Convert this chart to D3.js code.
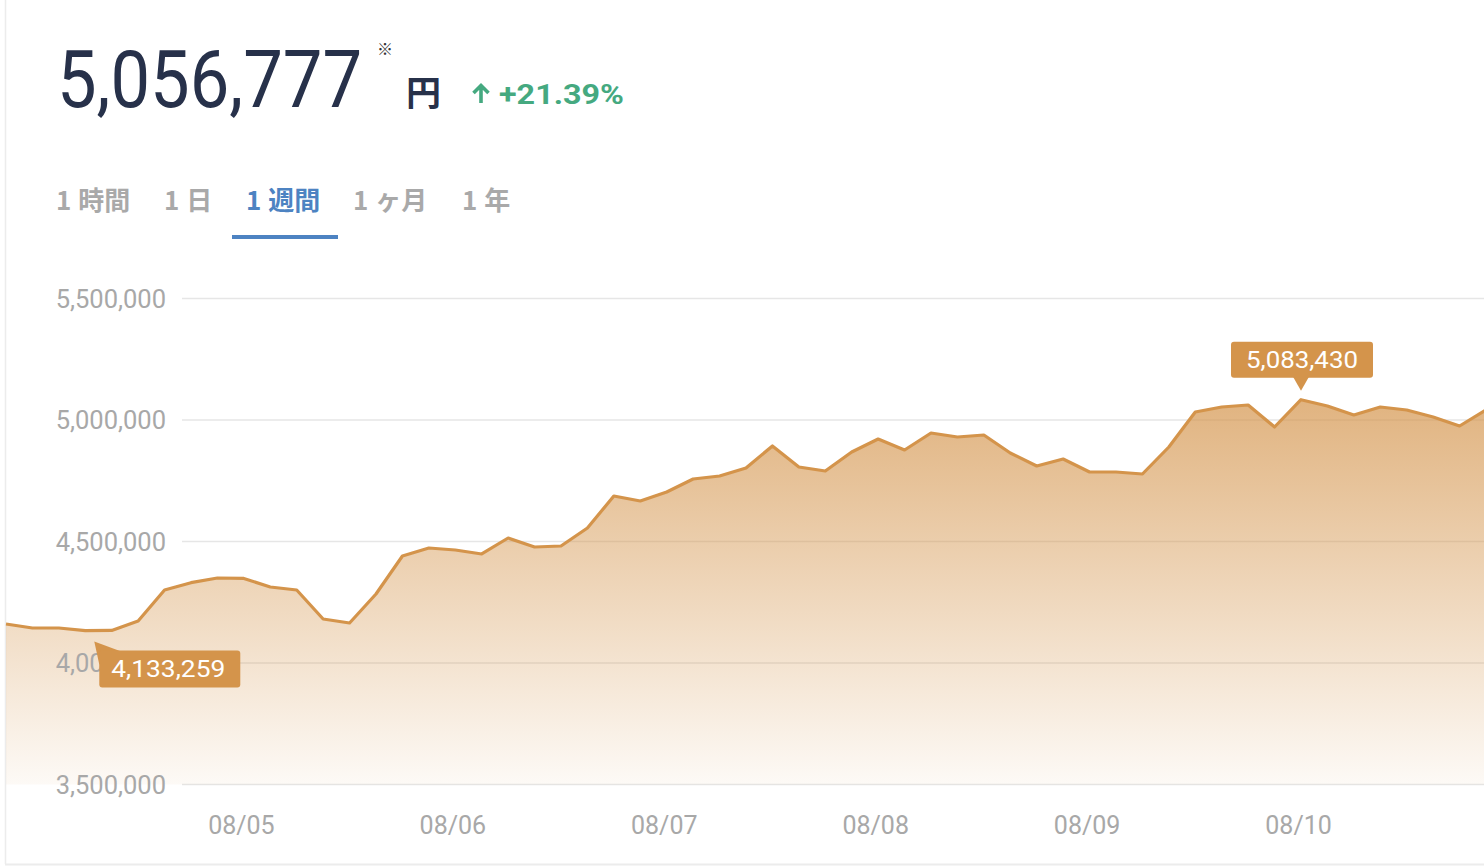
<!DOCTYPE html>
<html><head><meta charset="utf-8">
<script src="https://cdn.jsdelivr.net/npm/d3@7"></script>
<style>
html,body{margin:0;padding:0;background:#fff;}
svg{display:block;}
</style></head>
<body>
<svg id="chart" width="1484" height="868"></svg>
<script>
// ---- data ----
const startTime = "2021-08-03T21:20:00";
const stepHours = 3;
const prices = [
 4160500, 4144000, 4144000, 4133259, 4134000, 4172800, 4300400, 4330500,
 4349800, 4348000, 4312800, 4300400, 4181000, 4164600, 4284000, 4440300,
 4473200, 4465000, 4448600, 4514400, 4477400, 4481500, 4555600, 4687200,
 4666700, 4703700, 4757200, 4769600, 4802500, 4893000, 4806600, 4790100,
 4868300, 4921800, 4876500, 4946500, 4930000, 4938300, 4864200, 4810700,
 4839500, 4786000, 4786000, 4777800, 4888900, 5032900, 5053500, 5061700,
 4971200, 5083430, 5057600, 5020500, 5053500, 5041200, 5012400, 4975300,
 5041200
];
const yTicks = [3500000, 4000000, 4500000, 5000000, 5500000];
const xTickDates = ["2021-08-05", "2021-08-06", "2021-08-07", "2021-08-08", "2021-08-09", "2021-08-10"];
const currentPrice = "5,056,777";
const unitLabel = "円";
const changeLabel = "+21.39%";
const tabs = [["1","時間"],["1","日"],["1","週間"],["1","ヶ月"],["1","年"]];
const activeTab = 2;

// ---- setup ----
const svg = d3.select("#chart");
const parse = d3.isoParse;
const t0 = parse(startTime);
const data = prices.map((v,i)=>({t:new Date(t0.getTime()+i*stepHours*3600e3), v}));
const tEnd = new Date(t0.getTime()+7*24*3600e3);

const x = d3.scaleTime().domain([t0, tEnd]).range([6, 1486]);
const y = d3.scaleLinear().domain([3500000, 5500000]).range([784.5, 298.5]);

const lineColor = "#d4944b";
const numFont = "Roboto, 'Noto Sans', sans-serif";
const cjkFont = "'Noto Sans CJK JP', 'Noto Sans', sans-serif";

// card borders
svg.append("line").attr("x1",5.5).attr("x2",5.5).attr("y1",0).attr("y2",864).attr("stroke","#ececec").attr("stroke-width",1.5);
svg.append("line").attr("x1",5).attr("x2",1484).attr("y1",864.5).attr("y2",864.5).attr("stroke","#ececec").attr("stroke-width",2);

// header
const hdr = svg.append("g");
hdr.append("text").attr("x",57).attr("y",107).attr("font-family",numFont).attr("font-size",79)
  .attr("fill","#27314a").attr("textLength",305).attr("lengthAdjust","spacingAndGlyphs").text(currentPrice);
hdr.append("text").attr("x",377).attr("y",55).attr("font-family",cjkFont).attr("font-size",16)
  .attr("fill","#333").text("※");
hdr.append("text").attr("x",406).attr("y",106).attr("font-family",cjkFont).attr("font-size",35).attr("font-weight",700)
  .attr("fill","#27314a").text(unitLabel);
// up arrow drawn as a path
hdr.append("path").attr("d","M481,103L481,86M473.5,93L481,85.5L488.5,93").attr("fill","none")
  .attr("stroke","#45a980").attr("stroke-width",3.6).attr("stroke-linecap","butt").attr("stroke-linejoin","miter");
hdr.append("text").attr("x",499).attr("y",104).attr("font-family",numFont).attr("font-size",28).attr("font-weight",700)
  .attr("fill","#45a980").attr("textLength",125).attr("lengthAdjust","spacingAndGlyphs").text(changeLabel);

// tabs
const tabX = [56, 164, 246, 353, 462];
const tabG = svg.append("g");
tabs.forEach((tb,i)=>{
  const t = tabG.append("text").attr("x",tabX[i]).attr("y",210).attr("font-family",cjkFont).attr("font-size",26)
    .attr("font-weight",700).attr("fill", i===activeTab ? "#4d83c2" : "#a9a9a9");
  t.append("tspan").text(tb[0]);
  t.append("tspan").attr("dx",7).text(tb[1]);
});
tabG.append("rect").attr("x",232).attr("y",235).attr("width",106).attr("height",4).attr("fill","#4d83c2");

// gradient
const defs = svg.append("defs");
const grad = defs.append("linearGradient").attr("id","fillGrad").attr("gradientUnits","userSpaceOnUse")
  .attr("x1",0).attr("x2",0).attr("y1",y(5500000)).attr("y2",y(3500000));
grad.append("stop").attr("offset",0).attr("stop-color",lineColor).attr("stop-opacity",0.88);
grad.append("stop").attr("offset",1).attr("stop-color",lineColor).attr("stop-opacity",0.05);

// grid
svg.append("g").selectAll("line").data(yTicks).join("line")
  .attr("x1",182).attr("x2",1484).attr("y1",d=>y(d)).attr("y2",d=>y(d))
  .attr("stroke","#e6e6e6").attr("stroke-width",1.5);

// area + line
const area = d3.area().x(d=>x(d.t)).y0(y(3500000)).y1(d=>y(d.v));
const line = d3.line().x(d=>x(d.t)).y(d=>y(d.v));
svg.append("path").datum(data).attr("d",area).attr("fill","url(#fillGrad)");
svg.append("path").datum(data).attr("d",line).attr("fill","none").attr("stroke",lineColor)
  .attr("stroke-width",3.2).attr("stroke-linejoin","round");

// y axis labels
const fmt = d3.format(",");
const yAxis = d3.axisLeft(y).tickValues(yTicks).tickFormat(fmt).tickSize(0).tickPadding(0);
const yg = svg.append("g").attr("transform","translate(166,0)").call(yAxis);
yg.select(".domain").remove();
yg.selectAll("text").attr("font-family",numFont).attr("font-size",25.5).attr("fill","#a8a8a8").attr("dy","0.35em");

// x axis labels
const xAxis = d3.axisBottom(x).tickValues(xTickDates.map(d=>parse(d+"T00:00:00"))).tickFormat(d3.timeFormat("%m/%d")).tickSize(0).tickPadding(0);
const xg = svg.append("g").attr("transform","translate(0,834)").call(xAxis);
xg.select(".domain").remove();
xg.selectAll("text").attr("font-family",numFont).attr("font-size",25).attr("fill","#a8a8a8").attr("dy",0);

// tooltips
const tipColor = "#d4944b";
// max
let iMax = d3.maxIndex(prices);
let px = x(data[iMax].t), py = y(prices[iMax]);
const gMax = svg.append("g");
gMax.append("rect").attr("x",px-70).attr("y",py-58).attr("width",142).attr("height",36).attr("rx",3).attr("fill",tipColor);
gMax.append("path").attr("d",`M${px-8},${py-23}L${px+8},${py-23}L${px},${py-9}Z`).attr("fill",tipColor);
gMax.append("text").attr("x",px-55).attr("y",py-32).attr("font-family",numFont)
  .attr("font-size",24).attr("fill","#fff").attr("textLength",112).attr("lengthAdjust","spacingAndGlyphs").text(fmt(prices[iMax]));
// min
let iMin = d3.minIndex(prices);
px = x(data[iMin].t); py = y(prices[iMin]);
const gMin = svg.append("g");
gMin.append("path").attr("d",`M${px+9},${py+11}L${px+36},${py+21}L${px+14},${py+34}Z`).attr("fill",tipColor);
gMin.append("rect").attr("x",px+14).attr("y",py+20).attr("width",141).attr("height",37).attr("rx",3).attr("fill",tipColor);
gMin.append("text").attr("x",px+26).attr("y",py+46).attr("font-family",numFont)
  .attr("font-size",24).attr("fill","#fff").attr("textLength",114).attr("lengthAdjust","spacingAndGlyphs").text(fmt(prices[iMin]));
</script>
</body></html>
